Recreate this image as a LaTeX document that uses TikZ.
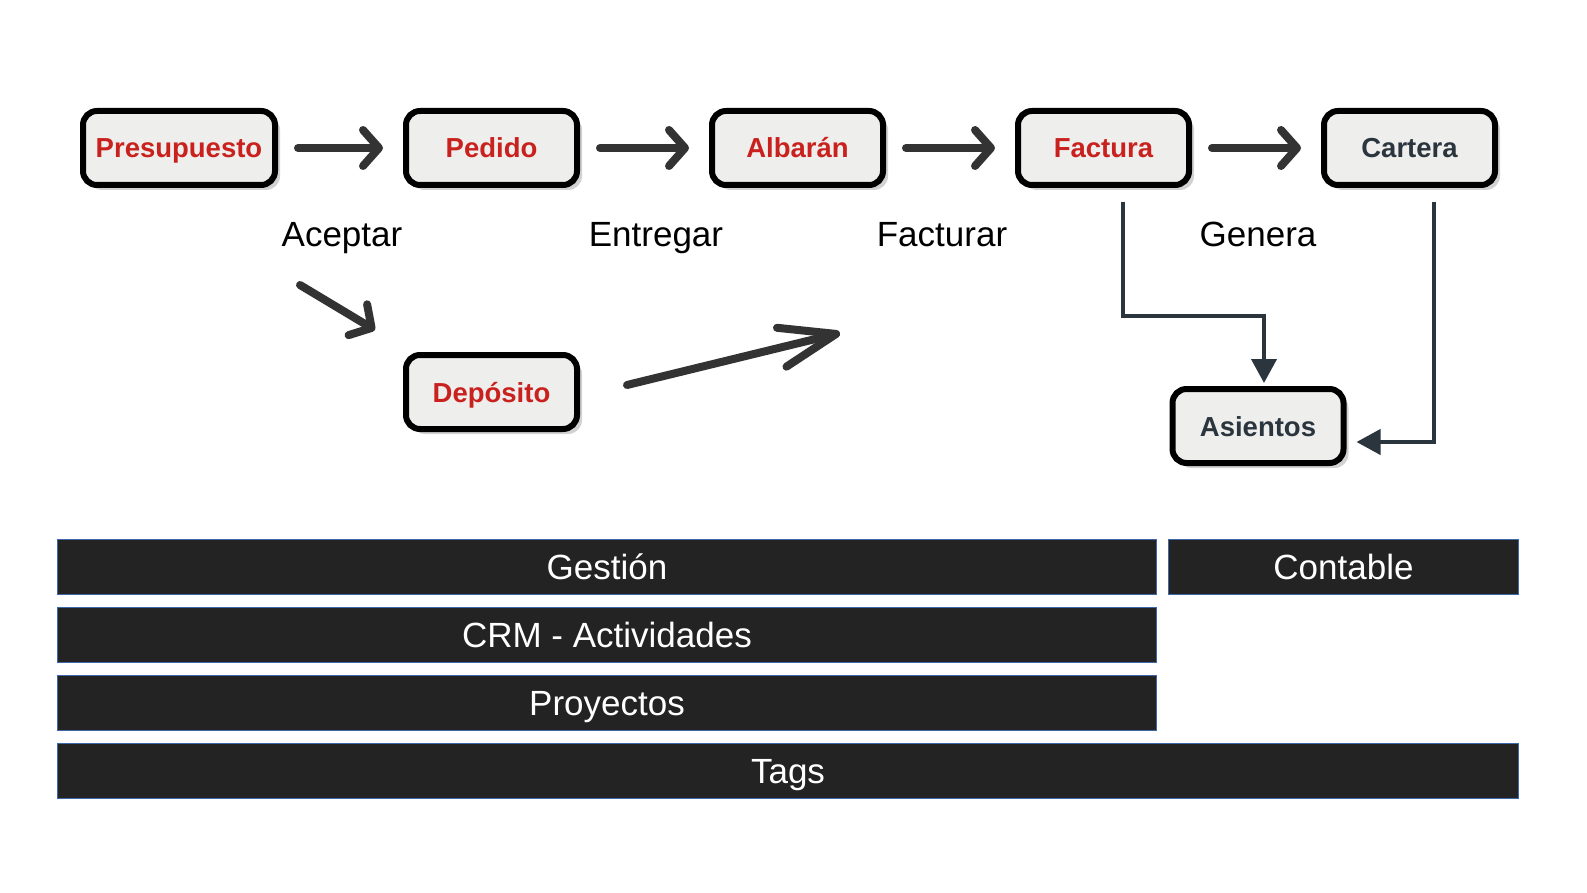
\documentclass[tikz,border=0pt]{standalone}
\usepackage{fontspec}
\setmainfont{Liberation Sans}
\usepackage{xcolor}
\usepackage{tikz}
\usetikzlibrary{shapes.geometric, arrows, arrows.meta, positioning, shadows}
\definecolor{docred}{RGB}{201,33,30}
\definecolor{docslate}{RGB}{42,53,62}
\definecolor{boxfill}{RGB}{238,238,236}
\definecolor{sketchgray}{RGB}{51,51,51}
\definecolor{barfill}{RGB}{35,35,35}
\definecolor{barline}{RGB}{62,104,170}

\begin{document}
\begin{tikzpicture}[x=1pt, y=-1pt, node distance=129pt,
    docbox/.style={draw, rectangle, rounded corners=14pt, line width=6pt, fill=boxfill,
        minimum width=171pt, minimum height=74pt, inner xsep=4pt,
        text height=20pt, text depth=0pt, text=docred,
        font=\fontsize{27.5}{33}\selectfont\bfseries,
        drop shadow={shadow xshift=5pt, shadow yshift=-5pt, opacity=.35}},
    steplabel/.style={anchor=base, font=\fontsize{35}{42}\selectfont},
    sketcharrow/.style={draw=sketchgray, line width=8pt, line cap=round,
        -{Straight Barb[length=16pt, width=36pt, round]}},
    flowline/.style={draw=docslate, line width=4pt, -{Triangle[length=24pt, width=25pt]}},
    bar/.style={draw=barline, line width=1pt, fill=barfill, text=white, anchor=north west,
        minimum height=55pt, inner sep=0pt, text height=25pt, text depth=0pt,
        font=\fontsize{35}{42}\selectfont}]
    \fill[white] (0,0) rectangle (1587,893);
    \useasboundingbox (0,0) rectangle (1587,893);

    % document flow
    \node[docbox, minimum width=192pt] (Presupuesto) at (179,148) {Presupuesto};
    \node[docbox, right=125pt of Presupuesto] (Pedido) {Pedido};
    \node[docbox, right=of Pedido] (Albaran) {Albarán};
    \node[docbox, right=of Albaran] (Factura) {Factura};
    \node[docbox, right=of Factura, text=docslate] (Cartera) {Cartera};
    \node[docbox, below=164pt of Pedido] (Deposito) {Depósito};
    \node[docbox, text=docslate] (Asientos) at (1258,426) {Asientos};

    \foreach \a/\b in {Presupuesto/Pedido, Pedido/Albaran, Albaran/Factura, Factura/Cartera}
        \draw[sketcharrow] ([xshift=20pt]\a.east) -- ([xshift=-20pt]\b.west);

    \node[steplabel] (Aceptar) at (342,247) {Aceptar};
    \node[steplabel] (Entregar) at (656,247) {Entregar};
    \node[steplabel] (Facturar) at (942,247) {Facturar};
    \node[steplabel] (Genera) at (1258,247) {Genera};

    % via deposito
    \coordinate (facturarIn) at (840,333);
    \draw[sketcharrow] ([shift={(-103,-67)}]Deposito.north west) -- ([shift={(-28,-22)}]Deposito.north west);
    \draw[sketcharrow, -{Straight Barb[length=56pt, width=40pt, round]}]
        ([shift={(47,-7)}]Deposito.east) -- (facturarIn);

    % accounting
    \draw[flowline] ([shift={(19,14)}]Factura.south) -- ++(0,114) -| ([shift={(6,-3)}]Asientos.north);
    \draw[flowline] ([shift={(24,14)}]Cartera.south) |- ([shift={(10,16)}]Asientos.east);

    % modules
    \node[bar, minimum width=1099pt] (Gestion) at (57,539) {Gestión};
    \node[bar, minimum width=350pt] (Contable) at (1168,539) {Contable};
    \node[bar, minimum width=1099pt] (CRM) at (57,607) {CRM - Actividades};
    \node[bar, minimum width=1099pt] (Proyectos) at (57,675) {Proyectos};
    \node[bar, minimum width=1461pt] (Tags) at (57,743) {Tags};
\end{tikzpicture}
\end{document}
